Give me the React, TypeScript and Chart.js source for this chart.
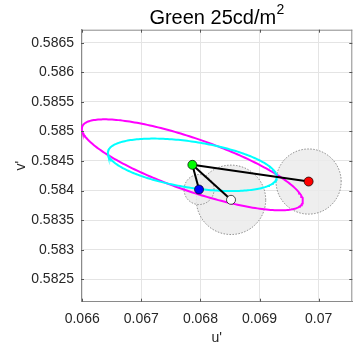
import React, { useEffect, useRef } from "react";
import { Chart, registerables } from "chart.js";

Chart.register(...registerables);

// ---- data ----
const titleMain = "Green 25cd/m";
const titleSup = "2";
const xLabel = "u'";
const yLabel = "v'";

const xTicks = [0.066, 0.067, 0.068, 0.069, 0.07];
const xTickLabels = ["0.066", "0.067", "0.068", "0.069", "0.07"];
const yTicks = [0.5825, 0.583, 0.5835, 0.584, 0.5845, 0.585, 0.5855, 0.586, 0.5865];
const yTickLabels = ["0.5825", "0.583", "0.5835", "0.584", "0.5845", "0.585", "0.5855", "0.586", "0.5865"];
const xRange = [0.06598, 0.07057];
const yRange = [0.58212, 0.58672];

// points: reference (green), then blue, white, red
const pointU = [0.067864, 0.067977, 0.068518, 0.069831];
const pointV = [0.584435, 0.584017, 0.583843, 0.584152];
const pointColors = ["#00ff00", "#0000ff", "#ffffff", "#ff0000"];
const circleRadius = [0, 0.000254, 0.000587, 0.000551];

// ellipses centred on the reference point
const ellipseColors = ["#ff00ff", "#00ffff"];
const ellipseSemiMajor = [0.001973, 0.001445];
const ellipseSemiMinor = [0.000442, 0.000389];
const ellipseAngleDeg = [-19.1, -8.8];

const FONT = "'Liberation Sans', Arial, Helvetica, sans-serif";
const TEXT = "#262626";

function ellipsePoints(cx: number, cy: number, a: number, b: number, deg: number) {
  const th = (deg * Math.PI) / 180;
  const pts: { x: number; y: number }[] = [];
  const n = 240;
  for (let i = 0; i <= n; i++) {
    const t = (2 * Math.PI * i) / n;
    const ex = a * Math.cos(t);
    const ey = b * Math.sin(t);
    pts.push({ x: cx + ex * Math.cos(th) - ey * Math.sin(th), y: cy + ex * Math.sin(th) + ey * Math.cos(th) });
  }
  return pts;
}

const framePlugin = {
  id: "frame",
  afterDraw(chart: any) {
    const { ctx, chartArea } = chart;
    const { left, right, top, bottom } = chartArea;
    const xs = chart.scales.x;
    const ys = chart.scales.y;
    ctx.save();
    ctx.strokeStyle = "#8a8a8a";
    ctx.lineWidth = 1;
    ctx.beginPath();
    ctx.moveTo(left, top + 0.5);
    ctx.lineTo(right, top + 0.5);
    ctx.moveTo(right - 0.5, top);
    ctx.lineTo(right - 0.5, bottom);
    ctx.stroke();
    ctx.strokeStyle = "#555";
    ctx.beginPath();
    const tl = 3;
    xTicks.forEach((v) => {
      const px = Math.round(xs.getPixelForValue(v)) + 0.5;
      ctx.moveTo(px, bottom);
      ctx.lineTo(px, bottom - tl);
      ctx.moveTo(px, top);
      ctx.lineTo(px, top + tl);
    });
    yTicks.forEach((v) => {
      const py = Math.round(ys.getPixelForValue(v)) + 0.5;
      ctx.moveTo(left, py);
      ctx.lineTo(left + tl, py);
      ctx.moveTo(right, py);
      ctx.lineTo(right - tl, py);
    });
    ctx.stroke();

    // title
    const cx = (left + right) / 2;
    ctx.fillStyle = "#000";
    ctx.textBaseline = "alphabetic";
    ctx.font = `20px ${FONT}`;
    const w1 = ctx.measureText(titleMain).width;
    ctx.font = `14px ${FONT}`;
    const w2 = ctx.measureText(titleSup).width;
    const x0 = cx - (w1 + w2) / 2;
    ctx.font = `20px ${FONT}`;
    ctx.textAlign = "left";
    ctx.fillText(titleMain, x0, 24);
    ctx.font = `14px ${FONT}`;
    ctx.fillText(titleSup, x0 + w1 + 0.5, 14);

    // axis labels
    ctx.fillStyle = TEXT;
    ctx.font = `14px ${FONT}`;
    ctx.textAlign = "center";
    ctx.fillText(xLabel, cx, 342);
    ctx.save();
    ctx.translate(25, (top + bottom) / 2);
    ctx.rotate(-Math.PI / 2);
    ctx.fillText(yLabel, 0, 0);
    ctx.restore();
    ctx.restore();
  },
};

export default function App() {
  const ref = useRef<HTMLCanvasElement>(null);
  useEffect(() => {
    const gx = pointU[0];
    const gy = pointV[0];
    const datasets: any[] = [];
    // circles
    for (let i = 1; i < pointU.length; i++) {
      datasets.push({
        data: ellipsePoints(pointU[i], pointV[i], circleRadius[i], circleRadius[i], 0),
        showLine: true,
        fill: "shape",
        backgroundColor: "rgba(235,235,235,0.85)",
        borderColor: "#6e6e6e",
        borderWidth: 0.8,
        borderDash: [1.5, 1.5],
        pointRadius: 0,
        tension: 0,
        order: 4,
      });
    }
    // ellipses
    for (let k = 0; k < ellipseColors.length; k++) {
      datasets.push({
        data: ellipsePoints(gx, gy, ellipseSemiMajor[k], ellipseSemiMinor[k], ellipseAngleDeg[k]),
        showLine: true,
        fill: false,
        borderColor: ellipseColors[k],
        borderWidth: 2,
        pointRadius: 0,
        tension: 0,
        order: 3 - k * 0.5,
      });
    }
    // connecting lines
    for (let i = 1; i < pointU.length; i++) {
      datasets.push({
        data: [
          { x: gx, y: gy },
          { x: pointU[i], y: pointV[i] },
        ],
        showLine: true,
        fill: false,
        borderColor: "#000",
        borderWidth: 2,
        pointRadius: 0,
        order: 2,
      });
    }
    // markers
    datasets.push({
      data: pointU.map((u, i) => ({ x: u, y: pointV[i] })),
      showLine: false,
      pointRadius: 4.5,
      pointBackgroundColor: pointColors,
      pointBorderColor: "#000",
      pointBorderWidth: 0.7,
      order: 1,
    });

    const chart = new Chart(ref.current!, {
      type: "scatter",
      data: { datasets },
      options: {
        animation: false,
        responsive: false,
        devicePixelRatio: 1,
        layout: { padding: { left: 0, right: 6.7, top: 29.7, bottom: 0 } },
        plugins: { legend: { display: false }, tooltip: { enabled: false }, title: { display: false } },
        scales: {
          x: {
            type: "linear",
            min: xRange[0],
            max: xRange[1],
            afterBuildTicks: (s: any) => {
              s.ticks = xTicks.map((v) => ({ value: v }));
            },
            afterFit: (s: any) => {
              s.height = 46.3;
            },
            grid: { color: "#e4e4e4", lineWidth: 1, drawTicks: false },
            border: { display: true, color: "#8a8a8a", width: 1 },
            ticks: {
              padding: 9,
              autoSkip: false,
              maxRotation: 0,
              color: TEXT,
              font: { family: FONT, size: 14 },
              callback: (_v: any, i: number) => xTickLabels[i],
            },
          },
          y: {
            type: "linear",
            min: yRange[0],
            max: yRange[1],
            afterBuildTicks: (s: any) => {
              s.ticks = yTicks.map((v) => ({ value: v }));
            },
            afterFit: (s: any) => {
              s.width = 81;
            },
            grid: { color: "#e4e4e4", lineWidth: 1, drawTicks: false },
            border: { display: true, color: "#8a8a8a", width: 1 },
            ticks: {
              padding: 7,
              autoSkip: false,
              color: TEXT,
              font: { family: FONT, size: 14 },
              callback: (_v: any, i: number) => yTickLabels[i],
            },
          },
        },
      },
      plugins: [framePlugin],
    });
    return () => chart.destroy();
  }, []);

  return (
    <div style={{ position: "absolute", left: 0, top: 0, width: 359, height: 348, background: "#fff" }}>
      <canvas ref={ref} width={359} height={348} style={{ display: "block", width: 359, height: 348 }} />
    </div>
  );
}
